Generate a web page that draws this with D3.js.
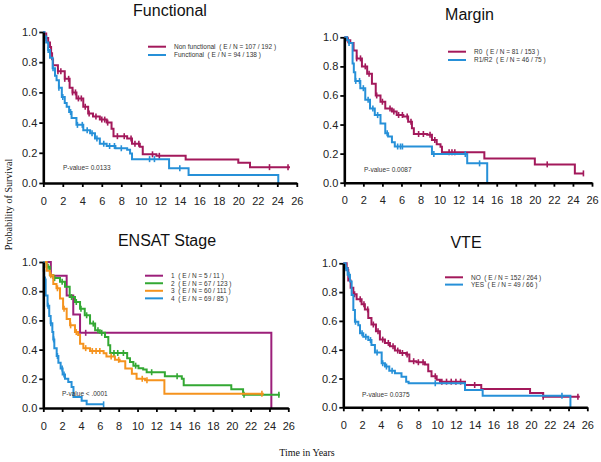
<!DOCTYPE html>
<html><head><meta charset="utf-8">
<script src="https://cdn.jsdelivr.net/npm/d3@7"></script>
<style>body{margin:0;background:#fff}svg{display:block}</style>
</head><body>
<svg id="c" width="601" height="462"></svg>
<script>
// ---------- DATA ----------
const xTicks = d3.range(0, 27, 2);
const yTicks = [0, 0.2, 0.4, 0.6, 0.8, 1.0];

const titles = ["Functional", "Margin", "ENSAT Stage", "VTE"];
const pValues = ["P-value= 0.0133", "P-value= 0.0087", "P-value < .0001", "P-value= 0.0375"];

// Functional panel
const funcLabels = ["Non functional  ( E / N = 107 / 192 )", "Functional  ( E / N = 94 / 138 )"];
const funcNonFunctional = [[0,1],[0.1,0.99],[0.3,0.96],[0.5,0.93],[0.69,0.90],[0.8,0.86],[0.9,0.82],[1.0,0.78],[1.5,0.74],[2.2,0.69],[2.7,0.63],[3.0,0.60],[3.4,0.56],[4.1,0.505],[4.6,0.46],[5.1,0.44],[5.8,0.42],[6.5,0.40],[7.0,0.36],[7.2,0.31],[8.6,0.295],[9.1,0.26],[9.9,0.24],[10.2,0.19],[11.6,0.18],[14.6,0.156],[20.0,0.134],[21.2,0.105],[25.3,0.105]];
const funcNonFunctionalCens = [0.3,1.5,1.8,2.2,2.6,3.0,3.3,3.6,3.9,4.3,4.7,5.4,6.0,6.3,6.6,7.6,8.3,9.0,9.4,9.8,11.2,11.9,23.2,25.1];
const funcFunctional = [[0,1],[0.1,0.97],[0.3,0.93],[0.5,0.88],[0.69,0.83],[0.96,0.76],[1.2,0.71],[1.36,0.68],[1.6,0.63],[1.9,0.57],[2.2,0.53],[2.4,0.505],[2.65,0.47],[2.9,0.43],[3.4,0.385],[4.1,0.35],[4.8,0.33],[5.3,0.295],[5.8,0.26],[6.5,0.245],[7.4,0.23],[8.6,0.22],[8.9,0.196],[9.1,0.158],[12.9,0.097],[14.9,0.053],[24.1,0]];
const funcFunctionalCens = [0.5,1.0,1.6,2.0,2.8,3.5,4.0,4.5,5.0,5.5,6.2,6.8,7.3,8.0,10.9,11.4,14.0];

// Margin panel
const marginLabels = ["R0  ( E / N = 81 / 153 )", "R1/R2  ( E / N = 46 / 75 )"];
const marginR0 = [[0,1],[0.3,0.98],[0.63,0.96],[0.97,0.91],[1.3,0.855],[1.85,0.80],[2.4,0.75],[2.9,0.68],[3.3,0.60],[3.8,0.557],[4.3,0.51],[5.0,0.489],[5.5,0.466],[6.2,0.455],[6.7,0.42],[7.1,0.374],[7.3,0.335],[8.7,0.33],[9.2,0.294],[9.7,0.264],[10.1,0.248],[10.25,0.209],[14.7,0.167],[20.0,0.126],[24.2,0.064],[25.1,0.064]];
const marginR0Cens = [0.4,1.3,1.7,2.2,2.6,3.4,4.0,4.8,5.2,5.7,6.1,6.6,7.0,7.8,8.3,9.0,9.5,11.0,11.3,11.6,21.3,25.1];
const marginR1R2 = [[0,1],[0.3,0.98],[0.5,0.96],[0.87,0.82],[1.0,0.76],[1.15,0.70],[1.68,0.65],[2.2,0.57],[2.7,0.51],[3.2,0.465],[3.8,0.408],[4.3,0.34],[4.6,0.317],[5.0,0.278],[5.3,0.249],[9.2,0.197],[12.9,0.133],[15.0,0]];
const marginR1R2Cens = [0.5,1.2,1.6,2.0,2.5,3.0,3.5,4.5,5.6,5.9,6.1,9.4,12.7,14.2];

// ENSAT stage panel
const ensatLabels = ["1  ( E / N = 5 / 11 )", "2  ( E / N = 67 / 123 )", "3  ( E / N = 60 / 111 )", "4  ( E / N = 69 / 85 )"];
const ensat1 = [[0,1],[0.8,0.905],[2.48,0.77],[3.18,0.64],[3.9,0.515],[24.2,0]];
const ensat1Cens = [4.5];
const ensat2 = [[0,1],[0.35,0.968],[0.7,0.91],[1.06,0.89],[1.77,0.865],[2.3,0.83],[2.8,0.76],[3.36,0.726],[3.9,0.68],[4.4,0.635],[4.96,0.578],[5.5,0.532],[6.0,0.515],[6.55,0.487],[6.9,0.43],[7.1,0.377],[8.9,0.34],[9.2,0.315],[9.56,0.29],[10.1,0.272],[10.6,0.263],[10.97,0.245],[12.9,0.218],[14.7,0.2],[14.9,0.155],[19.95,0.128],[21.2,0.091],[25.1,0.091]];
const ensat2Cens = [0.5,1.2,2.0,3.0,3.5,4.0,4.6,5.3,5.8,6.2,7.5,7.9,8.5,9.8,11.5,14.2,21.3,25.0];
const ensat3 = [[0,1],[0.35,0.94],[0.7,0.91],[1.06,0.85],[1.4,0.82],[1.77,0.75],[2.1,0.68],[2.48,0.61],[2.84,0.566],[3.36,0.52],[3.7,0.5],[3.9,0.44],[4.25,0.41],[4.96,0.39],[6.4,0.375],[6.7,0.352],[7.6,0.33],[8.1,0.32],[8.7,0.27],[9.4,0.235],[9.9,0.2],[10.8,0.19],[12.85,0.098],[23.4,0.098]];
const ensat3Cens = [0.8,1.5,2.2,2.9,3.5,4.5,5.2,5.6,6.0,7.2,8.0,10.5,11.0,23.2];
const ensat4 = [[0,1],[0.05,0.94],[0.1,0.88],[0.25,0.77],[0.45,0.70],[0.63,0.63],[0.78,0.58],[0.96,0.52],[1.06,0.47],[1.17,0.41],[1.42,0.356],[1.6,0.31],[1.84,0.27],[2.05,0.23],[2.3,0.2],[2.65,0.178],[3.0,0.144],[3.2,0.075],[4.07,0.05],[4.6,0.025],[6.4,0.025]];
const ensat4Cens = [0.2,0.5,0.8,1.1,1.5,2.0,2.2,6.4];

// VTE panel
const vteLabels = ["NO  ( E / N = 152 / 264 )", "YES  ( E / N = 49 / 66 )"];
const vteNo = [[0,1],[0.36,0.953],[0.53,0.88],[0.78,0.83],[1.07,0.785],[1.42,0.75],[1.95,0.715],[2.3,0.68],[2.66,0.62],[3.0,0.575],[3.48,0.528],[3.9,0.47],[4.44,0.447],[4.97,0.424],[5.5,0.394],[6.04,0.377],[6.7,0.366],[7.04,0.32],[7.8,0.313],[8.7,0.297],[9.05,0.25],[9.4,0.215],[9.95,0.192],[10.3,0.178],[12.97,0.155],[14.7,0.127],[19.9,0.10],[21.3,0.074],[25.2,0.074]];
const vteNoCens = [0.5,1.2,1.8,2.2,2.6,3.2,3.7,4.2,4.8,5.3,5.8,6.3,6.8,7.5,8.0,8.5,9.8,10.5,11.0,11.5,12.0,12.5,14.0,21.3,25.0];
const vteYes = [[0,1],[0.25,0.965],[0.46,0.92],[0.71,0.873],[0.89,0.78],[1.07,0.676],[1.24,0.594],[1.6,0.57],[1.78,0.514],[2.13,0.49],[2.66,0.467],[3.0,0.433],[3.37,0.38],[4.09,0.306],[4.44,0.283],[4.9,0.253],[5.5,0.236],[6.2,0.213],[6.7,0.178],[6.96,0.167],[12.97,0.12],[14.85,0.08],[24.2,0]];
const vteYesCens = [0.3,0.6,1.3,2.0,2.4,2.9,3.6,4.2,4.6,5.2,9.8,23.3];

// ---------- STYLE / LAYOUT ----------
const MAROON = "#a3195b", BLUE = "#2690d8", PURPLE = "#9c1f7a", GREEN = "#33a833", ORANGE = "#f5931e";

const panels = [
  {x0:43.3, x1:296.8, yT:32, yB:183, titleX:170, titleY:16, pX:63, pY:170,
   leg:{x:148, y:46.7, dy:8.3},
   series:[{d:funcNonFunctional,c:funcNonFunctionalCens,col:MAROON,lab:funcLabels[0]},
           {d:funcFunctional,c:funcFunctionalCens,col:BLUE,lab:funcLabels[1]}]},
  {x0:344.3, x1:592, yT:37.3, yB:182.7, titleX:469.5, titleY:20, pX:364, pY:171.5,
   leg:{x:448, y:51.7, dy:8.3},
   series:[{d:marginR0,c:marginR0Cens,col:MAROON,lab:marginLabels[0]},
           {d:marginR1R2,c:marginR1R2Cens,col:BLUE,lab:marginLabels[1]}]},
  {x0:43.3, x1:288.3, yT:262, yB:408, titleX:167, titleY:245.7, pX:62, pY:396,
   leg:{x:145, y:275.7, dy:7.55},
   series:[{d:ensat1,c:ensat1Cens,col:PURPLE,lab:ensatLabels[0]},
           {d:ensat2,c:ensat2Cens,col:GREEN,lab:ensatLabels[1]},
           {d:ensat3,c:ensat3Cens,col:ORANGE,lab:ensatLabels[2]},
           {d:ensat4,c:ensat4Cens,col:BLUE,lab:ensatLabels[3]}]},
  {x0:343.3, x1:587.3, yT:263.3, yB:407.3, titleX:466, titleY:248, pX:362, pY:396.5,
   leg:{x:445, y:277.3, dy:7.3},
   series:[{d:vteNo,c:vteNoCens,col:MAROON,lab:vteLabels[0]},
           {d:vteYes,c:vteYesCens,col:BLUE,lab:vteLabels[1]}]}
];

const svg = d3.select("#c");
const SANS = "'Liberation Sans', Arial, sans-serif";
const SERIF = "'Liberation Serif', 'Times New Roman', serif";

function survAt(d, t) {
  let v = d[0][1];
  for (const p of d) { if (p[0] <= t) v = p[1]; else break; }
  return v;
}

panels.forEach((P, i) => {
  const x = d3.scaleLinear().domain([0, 26]).range([P.x0, P.x1]);
  const y = d3.scaleLinear().domain([0, 1]).range([P.yB, P.yT]);
  const g = svg.append("g");

  // curves
  const line = d3.line().x(p => x(p[0])).y(p => y(p[1])).curve(d3.curveStepAfter);
  P.series.forEach(s => {
    g.append("path").attr("d", line(s.d)).attr("fill", "none")
      .attr("stroke", s.col).attr("stroke-width", 2).attr("stroke-linejoin", "miter");
    g.selectAll(null).data(s.c).enter().append("line")
      .attr("x1", t => x(t)).attr("x2", t => x(t))
      .attr("y1", t => y(survAt(s.d, t)) - 3).attr("y2", t => y(survAt(s.d, t)) + 3)
      .attr("stroke", s.col).attr("stroke-width", 1.6);
  });

  // axes
  const xa = g.append("g").attr("transform", `translate(0,${P.yB})`)
    .call(d3.axisBottom(x).tickValues(xTicks).tickSizeInner(4).tickSizeOuter(0).tickPadding(10).tickFormat(d3.format("d")));
  const ya = g.append("g").attr("transform", `translate(${P.x0},0)`)
    .call(d3.axisLeft(y).tickValues(yTicks).tickSizeInner(4).tickSizeOuter(0).tickPadding(2).tickFormat(d3.format(".1f")));
  [xa, ya].forEach(a => {
    a.select(".domain").attr("stroke", "#000").attr("stroke-width", 2.6);
    a.selectAll(".tick line").attr("stroke", "#000").attr("stroke-width", 1.8);
    a.selectAll(".tick text").attr("fill", "#222").style("font-family", SANS).style("font-size", "11px");
  });

  // title
  g.append("text").attr("x", P.titleX).attr("y", P.titleY).attr("text-anchor", "middle")
    .style("font-family", SANS).style("font-size", "16px").attr("fill", "#111").text(titles[i]);

  // legend
  P.series.forEach((s, k) => {
    const ly = P.leg.y + k * P.leg.dy;
    g.append("line").attr("x1", P.leg.x).attr("x2", P.leg.x + 18).attr("y1", ly).attr("y2", ly)
      .attr("stroke", s.col).attr("stroke-width", 2);
    g.append("text").attr("x", P.leg.x + 26).attr("y", ly).attr("dy", "0.35em")
      .style("font-family", SANS).style("font-size", "6.5px").attr("fill", "#333")
      .style("white-space", "pre").text(s.lab);
  });

  // p-value
  g.append("text").attr("x", P.pX).attr("y", P.pY)
    .style("font-family", SANS).style("font-size", "6.5px").attr("fill", "#333").text(pValues[i]);
});

// shared axis titles
svg.append("text").attr("transform", "translate(12,204.5) rotate(-90)").attr("text-anchor", "middle")
  .style("font-family", SERIF).style("font-size", "10px").attr("fill", "#111").text("Probability of Survival");
svg.append("text").attr("x", 307).attr("y", 456).attr("text-anchor", "middle")
  .style("font-family", SERIF).style("font-size", "10px").attr("fill", "#111").text("Time in Years");
</script>
</body></html>
